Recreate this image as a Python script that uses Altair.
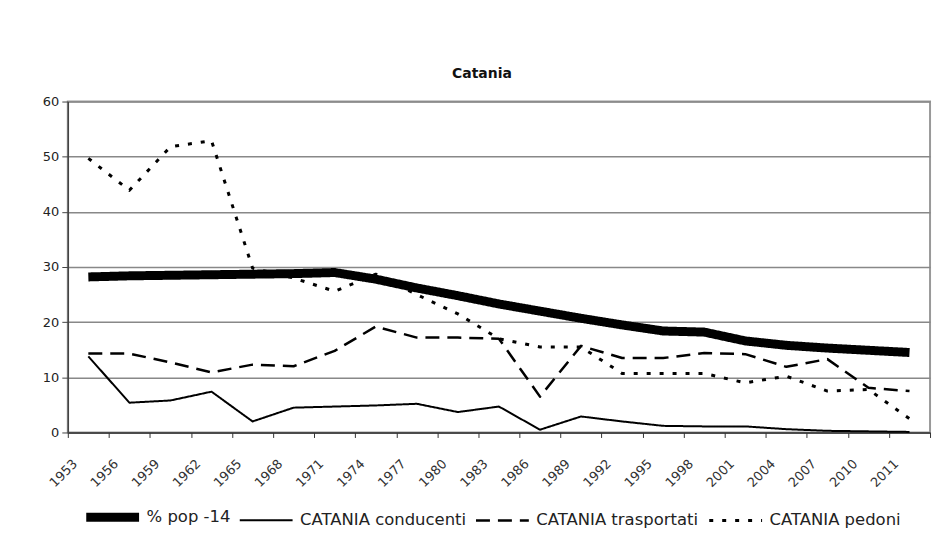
import json
import altair as alt
import pandas as pd

# ---- data ----
years = ["1953", "1956", "1959", "1962", "1965", "1968", "1971", "1974", "1977", "1980",
         "1983", "1986", "1989", "1992", "1995", "1998", "2001", "2004", "2007", "2010", "2011"]
series_names = ["% pop -14", "CATANIA conducenti", "CATANIA trasportati", "CATANIA pedoni"]

pop14 = [28.2, 28.4, 28.5, 28.6, 28.7, 28.8, 29.0, 27.8, 26.2, 24.8, 23.3,
         22.0, 20.7, 19.5, 18.4, 18.2, 16.6, 15.8, 15.3, 14.9, 14.5]
conducenti = [13.8, 5.4, 5.8, 7.4, 2.0, 4.5, 4.7, 4.9, 5.2, 3.7, 4.7,
              0.5, 2.9, 2.0, 1.2, 1.1, 1.1, 0.6, 0.3, 0.2, 0.1]
trasportati = [14.3, 14.3, 12.7, 10.9, 12.3, 12.0, 14.8, 19.2, 17.2, 17.2, 17.0,
               6.5, 15.7, 13.5, 13.5, 14.4, 14.2, 11.9, 13.3, 8.1, 7.5]
pedoni = [49.7, 43.9, 51.8, 52.9, 29.8, 28.0, 25.6, 28.7, 25.0, 21.5, 17.0,
          15.5, 15.5, 10.7, 10.7, 10.7, 9.0, 10.2, 7.5, 7.8, 2.5]

y_ticks = [0, 10, 20, 30, 40, 50, 60]

rows = []
for name, vals in zip(series_names, [pop14, conducenti, trasportati, pedoni]):
    for i, v in enumerate(vals):
        rows.append({"idx": i, "year": years[i], "series": name, "value": v})
df = pd.DataFrame(rows)

n = len(years)
label_expr = "(datum.value + 0.5) < %d ? %s[round(datum.value + 0.5)] : ''" % (n, json.dumps(years))
boundaries = [i - 0.5 for i in range(n + 1)]

dash_range = [[1, 0], [1, 0], [14, 8], [4, 9]]
width_range = [9, 2, 2.5, 3]

leg = alt.Legend(
    orient="none", legendX=14, legendY=386, direction="horizontal", columns=4,
    title=None, symbolType="stroke", symbolSize=2809, symbolStrokeColor="black",
    labelFontSize=16.5, labelFont="DejaVu Sans", labelColor="#222",
    labelOffset=3, columnPadding=4, labelLimit=400,
)

chart = alt.Chart(df).mark_line(color="black", strokeJoin="round").encode(
    x=alt.X(
        "idx:Q",
        scale=alt.Scale(domain=[-0.5, n - 0.5], nice=False, zero=False),
        axis=alt.Axis(
            values=boundaries, labelExpr=label_expr, title=None, grid=False,
            labelAngle=315, labelAlign="right", labelBaseline="middle",
            labelOffset=7, labelPadding=24, tickSize=5, tickColor="#333",
            domainColor="#333", domainWidth=1.5, labelFontSize=13,
            labelFont="DejaVu Sans", labelColor="#333",
        ),
    ),
    y=alt.Y(
        "value:Q",
        scale=alt.Scale(domain=[0, 60], nice=False),
        axis=alt.Axis(
            values=y_ticks, title=None, grid=True, gridColor="#888", gridWidth=1.5,
            tickSize=6, tickColor="#444", domainColor="#444", domainWidth=1.5,
            labelFontSize=13, labelFont="DejaVu Sans", labelColor="#222",
            labelPadding=3,
        ),
    ),
    strokeDash=alt.StrokeDash(
        "series:N", scale=alt.Scale(domain=series_names, range=dash_range), legend=leg
    ),
    strokeWidth=alt.StrokeWidth(
        "series:N",
        scale=alt.Scale(type="ordinal", domain=series_names, range=width_range),
        legend=leg,
    ),
    order="idx:Q",
).properties(
    width=865,
    height=332,
    title=alt.TitleParams(
        "Catania", fontSize=14, fontWeight="bold", font="DejaVu Sans",
        anchor="middle", dx=-17, offset=15, color="#111",
    ),
    autosize=alt.AutoSizeParams(type="none"),
    padding={"left": 60, "top": 93, "right": 10, "bottom": 97},
).configure_view(
    stroke="#999", strokeWidth=2
)

chart.save("out.html", embed_options={"renderer": "svg", "actions": False})
